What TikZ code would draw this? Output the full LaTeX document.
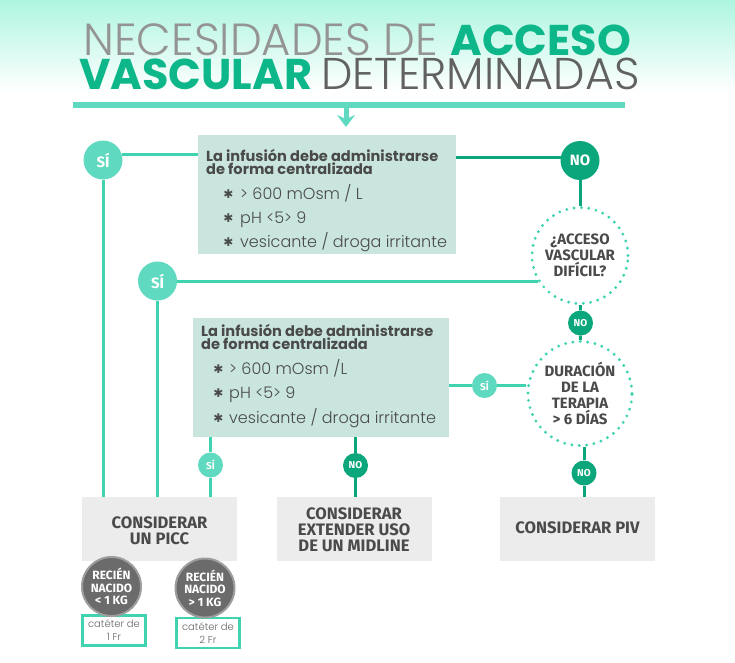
\documentclass[tikz,border=0pt]{standalone}
\usepackage{fontspec}
\usetikzlibrary{arrows.meta}
\setmainfont{Poppins}
\newfontfamily\finafont{Poppins Light}
\newfontfamily\rotulofont{Fira Sans}
\newfontfamily\signofont{DejaVu Sans}

\definecolor{mentaclara}{HTML}{5FD9BF}
\definecolor{menta}{HTML}{3FD3B0}
\definecolor{verde}{HTML}{0BA67C}
\definecolor{verdetitulo}{HTML}{0DB78A}
\definecolor{cajaverde}{HTML}{C9E5DE}
\definecolor{cajagris}{HTML}{ECECEC}
\definecolor{tinta}{HTML}{4A4A4A}
\definecolor{fondotop}{HTML}{AEF5E0}

\tikzset{
	circulo/.style={circle,inner sep=0pt,text=white,font=\rotulofont\bfseries},
	si/.style={circulo,fill=mentaclara},
	no/.style={circulo,fill=verde},
	grande/.style={minimum size=39pt,font=\rotulofont\bfseries\fontsize{15}{15}\selectfont},
	chico/.style={minimum size=25pt,font=\rotulofont\bfseries\fontsize{10}{10}\selectfont},
	pregunta/.style={circle,inner sep=0pt,fill=white,draw=menta,line width=3.2pt,
		dash pattern=on 0pt off 7.4pt,line cap=round,align=center,text=tinta,
		font=\rotulofont\bfseries\fontsize{15}{16}\selectfont},
	cajainfo/.style={fill=cajaverde,minimum width=#1,minimum height=119pt,inner sep=0pt},
	cajafin/.style={fill=cajagris,minimum width=155pt,minimum height=64pt,inner sep=0pt},
	textofin/.style={inner sep=0pt,align=center,text=tinta,font=\rotulofont\bfseries\fontsize{16.6}{16}\selectfont},
	bebe/.style={circle,inner sep=0pt,minimum size=59pt,fill=black!58,draw=black!38,line width=2pt,
		align=center,text=white,font=\rotulofont\bfseries\fontsize{12}{12.5}\selectfont},
	cateter/.style={draw=menta,line width=2.6pt,fill=white,minimum width=63pt,minimum height=30pt,
		inner sep=0pt,align=center,text=black!60,font=\finafont\fontsize{10}{13}\selectfont},
	encabezado/.style={anchor=base west,inner sep=0pt,align=left,text=tinta,
		font=\bfseries\fontsize{14.6}{13}\selectfont},
	item/.style={anchor=base west,inner sep=0pt,text=tinta,font=\finafont\fontsize{16}{16}\selectfont},
	estrella/.style={inner sep=0pt,text=tinta,font=\signofont\fontsize{12}{12}\selectfont},
	lineamenta/.style={draw=menta,line width=3pt},
	lineaverde/.style={draw=verde,line width=3pt},
}

\begin{document}
\begin{tikzpicture}[x=1pt,y=-1pt]
	\useasboundingbox (0,0) rectangle (735,662);
	
	% Fondo degradado
	\shade[top color=fondotop,bottom color=white] (0,0) rectangle (735,92);
	
	% Titulo y regla
	\node[anchor=base west,inner sep=0pt] (titulo1) at (83,55)
		{{\fontsize{45}{45}\finafont\color{black!42}NECESIDADES DE }{\fontsize{43}{43}\bfseries\color{verdetitulo}ACCESO}};
	\node[anchor=base west,inner sep=0pt] (titulo2) at (79,89)
		{{\fontsize{43}{43}\bfseries\color{verdetitulo}VASCULAR }{\fontsize{44.5}{45}\finafont\color{black!62}DETERMINADAS}};
	\node[fill=mentaclara,minimum width=552pt,minimum height=6pt,inner sep=0pt] (regla) at (349,105) {};
	\coordinate (punta) at (346,127);
	
	% Cajas de la infusion
	\node[cajainfo=258pt] (infusion1) at (327,194.5) {};
	\node[cajainfo=256pt] (infusion2) at (321,377.5) {};
	\node[encabezado] (titinfusion1) at (206,174) {La infusión debe administrarse\\de forma centralizada};
	\node[encabezado] (titinfusion2) at (201,349.5) {La infusión debe administrarse\\de forma centralizada};
	
	% Listas de criterios
	\foreach \n/\y/\t in {1/199/{> 600 mOsm / L},2/223/{pH <5> 9},3/247/{vesicante / droga irritante}} {
		\node[item] (itemA\n) at (240,\y) {\t};
		\node[estrella] (estrellaA\n) at (228.5,\y-5) {✱};
	}
	\foreach \n/\y/\t in {1/374/{> 600 mOsm /L},2/398/{pH <5> 9},3/423/{vesicante / droga irritante}} {
		\node[item] (itemB\n) at (229,\y) {\t};
		\node[estrella] (estrellaB\n) at (218.5,\y-5) {✱};
	}
	
	% Circulos de decision
	\node[si,grande] (si1) at (103,160) {SÍ};
	\node[si,grande] (si2) at (157.5,281) {SÍ};
	\node[no,grande] (no1) at (580,160.5) {NO};
	\node[pregunta,minimum size=96pt] (acceso) at (580,255.5) {¿ACCESO\\VASCULAR\\DIFÍCIL?};
	\node[no,chico] (no2) at (580.5,323) {NO};
	\node[pregunta,minimum size=104pt] (duracion) at (580,393.5) {DURACIÓN\\DE LA\\TERAPIA\\> 6 DÍAS};
	\node[si,chico] (si3) at (484.5,385.5) {SÍ};
	\node[si,chico] (si4) at (210.5,465) {SÍ};
	\node[no,chico] (no3) at (355.5,465.5) {NO};
	\node[no,chico] (no4) at (584,473) {NO};
	
	% Cajas finales
	\node[cajafin] (picc) at (159.5,529) {};
	\node[cajafin] (midline) at (354,529) {};
	\node[cajafin] (piv) at (577.5,529) {};
	\node[textofin] (txtpicc) at (159.5,531) {CONSIDERAR\\UN PICC};
	\node[textofin] (txtmidline) at (354,530) {CONSIDERAR\\EXTENDER USO\\DE UN MIDLINE};
	\node[textofin] (txtpiv) at (577.5,528) {CONSIDERAR PIV};
	
	% Recien nacidos
	\node[cateter] (cat1) at (114,630.5) {catéter de\\1 Fr};
	\node[cateter] (cat2) at (208,633) {catéter de\\2 Fr};
	\node[bebe] (rn1) at (111.5,586.5) {RECIÉN\\NACIDO\\< 1 KG};
	\node[bebe] (rn2) at (205,588) {RECIÉN\\NACIDO\\> 1 KG};
	
	% Conectores
	\draw[mentaclara,line width=5pt,-{Stealth[length=12pt,width=18pt,inset=4pt]}] (punta |- regla.south) -- (punta);
	\draw[lineamenta] (si1.15) -- (si1.15 -| infusion1.west);
	\draw[lineamenta] (si1) -- (si1 |- picc.north);
	\draw[lineamenta] (si2) -- (si2 -| acceso.213);
	\draw[lineamenta] (si2) -- (si2 |- picc.north);
	\draw[lineamenta] (infusion2.east |- si3) -- (si3);
	\draw[lineamenta] (si3) -- (si3 -| duracion.west);
	\draw[lineamenta] (si4 |- infusion2.south) -- (si4);
	\draw[lineamenta] (si4) -- (si4 |- picc.north);
	\draw[lineaverde] (no1.172) -- (no1.172 -| infusion1.east);
	\draw[lineaverde] (no1) -- (acceso);
	\draw[lineaverde] (acceso) -- (no2);
	\draw[lineaverde] (no2) -- (duracion);
	\draw[lineaverde] (no3 |- infusion2.south) -- (no3);
	\draw[lineaverde] (no3) -- (no3 |- midline.north);
	\draw[lineaverde] (no4 |- duracion.south) -- (no4);
	\draw[lineaverde] (no4) -- (no4 |- piv.north);
\end{tikzpicture}
\end{document}
